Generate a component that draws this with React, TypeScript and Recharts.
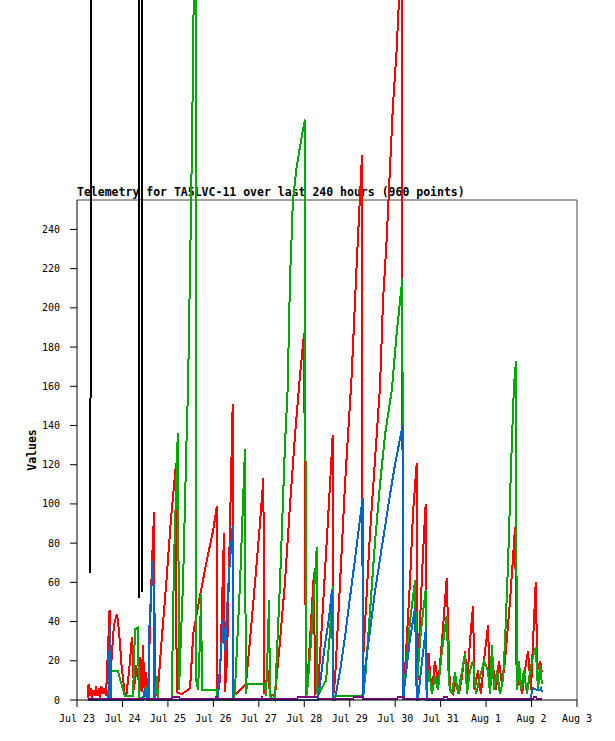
import React from "react";
import { LineChart, Line, XAxis, YAxis, ReferenceLine } from "recharts";

// hours since Jul 23 00:00, one tick per day
const dayLabels = ["Jul 23", "Jul 24", "Jul 25", "Jul 26", "Jul 27", "Jul 28", "Jul 29", "Jul 30", "Jul 31", "Aug 1", "Aug 2", "Aug 3"];
const dayTicks = dayLabels.map((_, i) => i * 24);
const valueTicks = [0, 20, 40, 60, 80, 100, 120, 140, 160, 180, 200, 220, 240];

type Pt = [number, number | null];

const redPts: Pt[] = [
  [5.8, 1], [6.1, 8], [6.6, 2], [7.4, 6], [7.9, 1], [8.7, 5], [9.5, 2], [10.0, 7], [10.8, 2], [11.6, 6],
  [12.1, 1], [12.9, 7], [13.7, 3], [14.5, 6], [15.3, 2], [16.1, 20], [17.2, 46], [17.7, 12], [18.5, 25], [19.5, 38],
  [21.1, 44], [22.2, 35], [23.5, 18], [25.1, 4], [26.1, 3], [27.5, 15], [29.0, 32], [30.1, 5], [31.2, 18], [32.2, 10],
  [33.3, 22], [34.1, 4], [34.8, 28], [35.6, 6], [36.4, 14], [37.5, 3], [38.5, 35], [39.6, 70], [40.7, 96], [41.1, 5],
  [41.7, 3], [42.8, 6], [44.4, 27], [47.0, 58], [49.6, 92], [52.3, 121], [52.6, 4], [55.4, 3], [59.7, 6], [61.4, 34],
  [64.9, 53], [68.5, 71], [72.0, 87], [73.8, 99], [74.2, 3], [75.5, 10], [77.6, 85], [78.1, 4], [79.2, 20], [80.8, 90],
  [82.2, 151], [82.6, 2], [89.2, 8], [91.3, 30], [94.0, 60], [96.6, 90], [98.4, 113], [98.9, 3], [100.8, 15], [101.9, 3],
  [104.5, 2], [107.2, 30], [109.8, 60], [112.5, 100], [115.1, 135], [117.7, 165], [119.9, 187], [120.4, 97], [120.9, 2], [121.4, 5],
  [123.0, 30], [125.1, 65], [125.7, 3], [127.2, 5], [129.4, 40], [131.5, 75], [133.6, 110], [135.0, 135], [135.4, 3], [136.2, 10],
  [138.9, 60], [141.5, 110], [145.0, 165], [147.8, 225], [150.5, 278], [150.8, 25], [151.3, 25], [154.7, 85], [160.0, 160], [161.6, 204],
  [163.5, 235], [165.3, 272], [166.8, 303], [168.8, 332], [170.0, 357], [171.6, 372], [172.0, 5], [173.2, 15], [175.8, 60], [177.4, 95],
  [179.4, 121], [179.8, 10], [181.1, 40], [182.7, 75], [184.1, 100], [184.5, 5], [185.6, 24], [187.3, 3], [189.0, 20], [190.8, 8],
  [192.7, 30], [195.2, 62], [196.9, 5], [198.5, 3], [200.1, 10], [201.7, 3], [203.3, 12], [204.9, 25], [205.9, 8], [207.5, 30],
  [209.1, 48], [209.9, 5], [211.7, 15], [213.3, 3], [214.9, 20], [217.0, 38], [218.1, 5], [219.6, 18], [221.2, 5], [222.8, 20],
  [224.4, 8], [226.0, 20], [228.6, 50], [231.3, 88], [232.2, 5], [233.4, 12], [235.0, 3], [236.5, 15], [238.1, 25], [239.7, 5],
  [240.8, 30], [242.2, 60], [243.1, 15], [244.5, 20], [245.5, 14],
];

const greenPts: Pt[] = [
  [5.8, 0], [17.4, 0], [18.0, 15], [21.6, 15], [23.2, 9], [25.3, 2], [29.6, 2], [30.6, 36], [32.2, 37], [32.7, 1],
  [35.4, 1], [36.4, 7], [37.5, 0], [41.2, 0], [42.2, 12], [42.8, 0], [50.0, 0], [51.2, 70], [53.0, 130], [53.3, 136],
  [53.9, 5], [54.4, 20], [56.0, 60], [57.9, 135], [58.6, 158], [60.2, 250], [61.2, 320], [62.3, 420], [62.7, 430], [63.0, 10],
  [63.9, 5], [64.9, 30], [65.5, 54], [66.0, 5], [73.9, 5], [74.4, 0], [82.9, 0], [83.4, 5], [86.1, 60], [88.7, 128],
  [89.1, 3], [89.8, 8], [99.3, 8], [99.8, 2], [100.8, 30], [101.4, 51], [101.9, 2], [104.5, 0], [107.2, 60], [109.8, 130],
  [111.2, 158], [112.5, 216], [113.4, 238], [114.0, 255], [116.0, 272], [117.7, 282], [119.9, 294], [120.4, 296], [120.6, 148], [120.9, 2],
  [121.4, 3], [123.6, 30], [126.6, 78], [127.0, 2], [131.5, 10], [133.6, 35], [135.0, 58], [135.4, 2], [150.5, 2], [152.1, 10],
  [154.7, 45], [157.3, 80], [160.0, 110], [162.6, 135], [166.2, 158], [168.8, 187], [171.8, 215], [172.1, 2], [173.7, 15], [175.8, 40],
  [178.5, 61], [179.3, 5], [181.1, 30], [182.7, 45], [184.1, 56], [184.5, 5], [185.9, 15], [187.4, 3], [189.0, 12], [190.6, 5],
  [192.7, 25], [195.2, 43], [196.4, 8], [198.0, 3], [199.6, 14], [201.2, 3], [203.3, 15], [204.9, 24], [205.9, 3], [207.5, 15],
  [209.1, 20], [210.7, 3], [212.8, 12], [214.9, 20], [217.0, 15], [218.1, 3], [219.1, 28], [220.2, 5], [221.8, 15], [223.3, 3],
  [224.9, 10], [226.0, 30], [227.6, 70], [229.2, 120], [230.7, 160], [231.8, 173], [232.2, 5], [233.4, 20], [234.4, 5], [236.0, 15],
  [237.6, 3], [239.2, 15], [240.8, 22], [242.2, 27], [243.4, 5], [244.5, 18], [245.5, 8],
];

const bluePts: Pt[] = [
  [5.8, 0], [16.4, 0], [16.9, 10], [17.4, 38], [18.0, 0], [34.8, 0], [35.9, 6], [37.0, 0], [37.8, 0], [38.0, 32],
  [39.1, 55], [40.3, 71], [40.9, 0], [74.4, 0], [75.5, 17], [77.1, 41], [78.1, 25], [80.3, 65], [82.2, 89], [82.6, 0],
  [127.2, 0], [128.8, 12], [130.9, 28], [133.1, 42], [134.6, 56], [135.3, 0], [136.2, 0], [138.9, 15], [141.5, 32], [144.1, 52],
  [146.8, 72], [149.4, 92], [150.8, 103], [151.2, 0], [151.5, 12], [154.7, 35], [157.3, 55], [160.0, 72], [162.6, 88], [165.3, 105],
  [167.9, 120], [170.5, 133], [172.0, 140], [172.4, 0], [172.7, 5], [175.8, 31], [178.5, 47], [179.4, 0], [180.0, 0], [182.2, 20],
  [184.3, 37], [184.8, 0], [239.2, 0], [240.8, 6], [243.4, 5], [244.5, 5], [245.0, 6], [245.5, 4],
];

const purplePts: Pt[] = [
  [5.8, 0.5], [50.2, 0.5], [50.7, 1.7], [53.9, 1.7], [54.4, 0.5], [72.9, 0.5], [73.4, 1.5], [74.4, 0.5], [97.2, 0.5], [97.7, 1.5],
  [98.2, 0.5], [116.2, 0.5], [116.7, 1.7], [126.7, 1.7], [127.2, 0.5], [145.7, 0.5], [146.3, 1.7], [151.0, 1.7], [151.5, 0.5], [169.0, 0.5],
  [169.5, 1.7], [172.7, 1.7], [173.2, 0.5], [193.2, 0.5], [193.8, 1.7], [195.4, 1.7], [195.9, 0.5], [240.8, 0.5], [241.3, 1.7], [242.4, 1.7],
  [242.9, 0.5], [245.5, 0.5],
];

// black is mostly far off the top, with gaps
const blackPts: Pt[] = [
  [7.0, 65], [7.4, 323], [7.9, 2000], [8.0, null],
  [32.2, 2000], [32.7, 52], [33.1, 2000], [34.0, 2000], [34.3, 55], [34.8, 2000], [35.0, null],
  [37.5, 0], [40.1, 0], [40.5, null],
  [75.5, 0], [82.2, 0],
];

const series = [
  { name: "black", color: "#000000", pts: blackPts },
  { name: "red", color: "#ff0000", pts: redPts },
  { name: "green", color: "#00aa00", pts: greenPts },
  { name: "blue", color: "#0066cc", pts: bluePts },
  { name: "purple", color: "#800080", pts: purplePts },
];

const toRows = (pts: Pt[]) => pts.map(([t, v]) => ({ t, v }));

const mono = "'DejaVu Sans Mono', monospace";
const tickStyle = { fontFamily: mono, fontSize: 10, fill: "#000" };

export default function App() {
  return (
    <div style={{ position: "absolute", left: 0, top: 0, width: 615, height: 741, background: "#fff" }}>
      <style>{`
        .recharts-wrapper [clip-path] { clip-path: none !important; }
        .recharts-line-curve { shape-rendering: crispEdges; }
      `}</style>
      <div
        style={{
          position: "absolute",
          left: 77,
          top: 187,
          fontFamily: mono,
          fontWeight: "bold",
          fontSize: 11.5,
          lineHeight: "11.5px",
          whiteSpace: "nowrap",
        }}
      >
        Telemetry for TA5LVC-11 over last 240 hours (960 points)
      </div>
      <div
        style={{
          position: "absolute",
          left: 32,
          top: 450,
          transform: "translate(-50%, -50%) rotate(-90deg)",
          fontFamily: mono,
          fontWeight: "bold",
          fontSize: 11.5,
          whiteSpace: "nowrap",
        }}
      >
        Values
      </div>
      <div style={{ position: "absolute", left: 0, top: 0 }}>
        <LineChart width={615} height={741} margin={{ top: 200, right: 38, bottom: 11, left: 17 }}>
          <XAxis
            type="number"
            dataKey="t"
            domain={[0, 264]}
            allowDataOverflow
            ticks={dayTicks}
            tickFormatter={(t: number) => dayLabels[Math.round(t / 24)]}
            interval={0}
            height={30}
            tickSize={7}
            tickMargin={8}
            tick={tickStyle}
            stroke="#000"
          />
          <YAxis
            type="number"
            domain={[0, 255]}
            allowDataOverflow
            ticks={valueTicks}
            interval={0}
            width={60}
            tickSize={7}
            tickMargin={10}
            tick={tickStyle}
            stroke="#000"
          />
          <ReferenceLine y={255} stroke="#444" strokeWidth={1} />
          <ReferenceLine x={264} stroke="#444" strokeWidth={1} />
          {series.map((s) => (
            <Line
              key={s.name}
              data={toRows(s.pts)}
              dataKey="v"
              type="linear"
              stroke={s.color}
              strokeWidth={2}
              dot={false}
              activeDot={false}
              connectNulls={false}
              isAnimationActive={false}
            />
          ))}
        </LineChart>
      </div>
    </div>
  );
}
